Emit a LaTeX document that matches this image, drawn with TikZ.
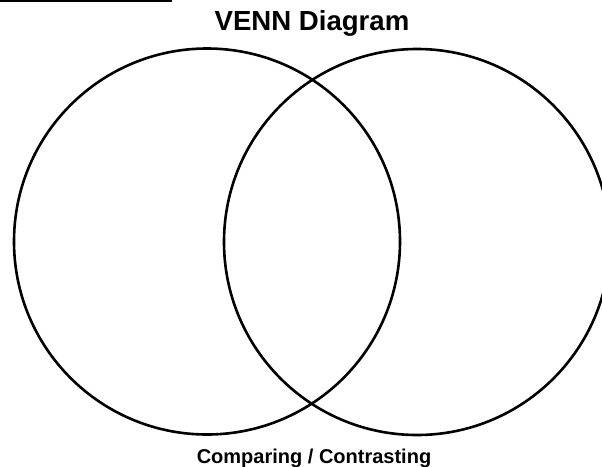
\documentclass[tikz,border=0pt]{standalone}
\usepackage{fontspec}
\setmainfont{Liberation Sans}
\usepackage{tikz}
\usetikzlibrary{positioning}

\tikzset{
  venn/.style={draw, circle, line width=2.6pt, inner sep=0pt, minimum size=#1},
  label text/.style={font=\bfseries, anchor=base, inner sep=0pt}
}

\begin{document}
\begin{tikzpicture}[x=1pt, y=-1pt]
    \useasboundingbox (0, 0) rectangle (602, 466);
    \coordinate (L0) at (0, 0.8);
    \coordinate (L1) at (172, 0.8);
    \draw [line width=1.6pt] (L0) -- (L1);

    \node [venn=386pt] (Left) at (207, 241.5) {};
    \node [venn=386pt] (Right) at (417, 242) {};

    \node [label text, font=\bfseries\fontsize{27.6pt}{30pt}\selectfont] (Title) at (312, 30.5) {VENN Diagram};
    \node [label text, font=\bfseries\fontsize{20pt}{22pt}\selectfont] (Caption) at (314, 463) {Comparing / Contrasting};
\end{tikzpicture}
\end{document}
